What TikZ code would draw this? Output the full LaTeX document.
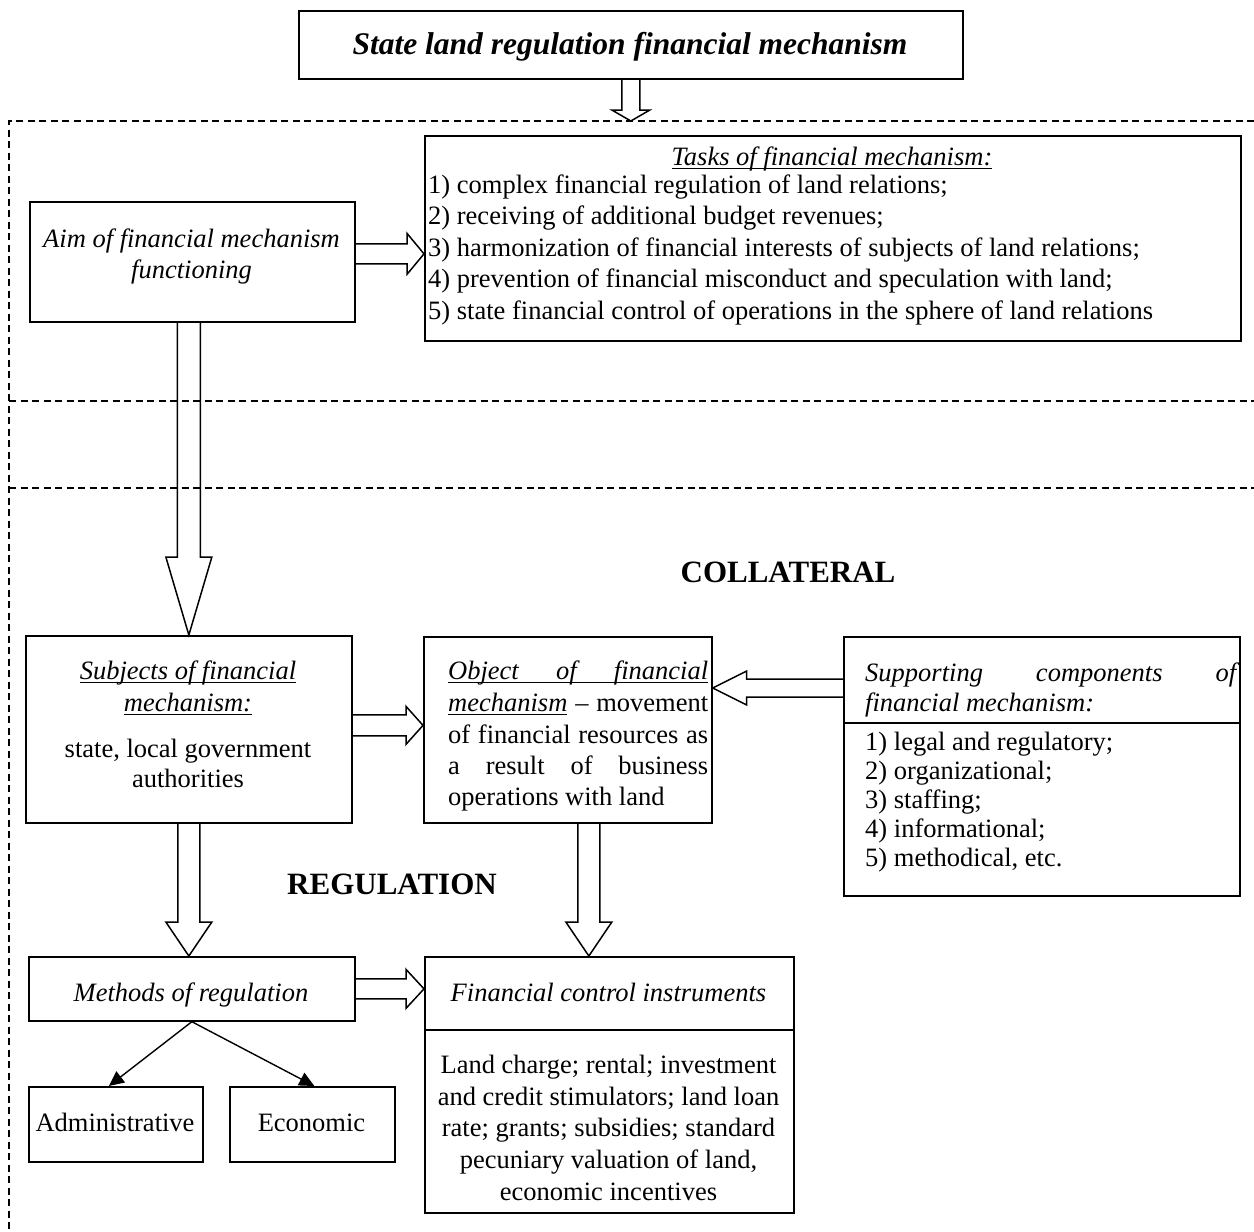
\documentclass[tikz,border=0pt]{standalone}
\usepackage{fontspec}
\setmainfont{Liberation Serif}
\usetikzlibrary{calc,arrows.meta}
\newsavebox\ulbox
\newcommand\uline[1]{\sbox\ulbox{#1}\rlap{\rule[-4pt]{\wd\ulbox}{1.4pt}}\usebox\ulbox}
\newcommand\blockarrow[5]{%
  \coordinate (ba-a) at (#1);
  \coordinate (ba-b) at (#2);
  \coordinate (ba-h) at ($(ba-b)!#5!(ba-a)$);
  \draw[blockar] ($(ba-a)!#3!90:(ba-b)$) -- ($(ba-h)!#3!-90:(ba-a)$) -- ($(ba-h)!#4!-90:(ba-a)$) -- (ba-b) -- ($(ba-h)!#4!90:(ba-a)$) -- ($(ba-h)!#3!90:(ba-a)$) -- ($(ba-a)!#3!-90:(ba-b)$);}
\tikzset{
  box/.style={draw, line width=1.7pt, inner sep=0pt, anchor=north west},
  frameline/.style={line width=1.4pt, dash pattern=on 7pt off 4.5pt},
  blockar/.style={draw, line width=1.5pt, line join=miter},
  thinar/.style={line width=1.4pt, -{Triangle[length=15pt,width=14pt]}},
  txt/.style={inner sep=0pt, font=\fontsize{26.5}{30.5}\selectfont},
  itxt/.style={inner sep=0pt, font=\fontsize{26.5}{30.5}\selectfont\itshape},
  big/.style={inner sep=0pt, font=\fontsize{31}{36}\selectfont\bfseries},
  ttl/.style={inner sep=0pt, font=\fontsize{31.5}{36}\selectfont\bfseries\itshape},
  divider/.style={line width=1.7pt},
}
\begin{document}
\begin{tikzpicture}[x=1pt,y=-1pt]
\useasboundingbox (0,0) rectangle (1254,1232);
\fill[white] (0,0) rectangle (1254,1232);
% dashed frame
\draw[frameline] (1254,121) -- (9,121) -- (9,1232);
\draw[frameline] (9,401) -- (1254,401);
\draw[frameline] (9,488) -- (1254,488);
\coordinate (ftop) at (630,121);
% boxes
\node[box, minimum width=664pt, minimum height=68pt] (title) at (298,10) {};
\node[box, minimum width=816pt, minimum height=205pt] (tasks) at (424,135) {};
\node[box, minimum width=325pt, minimum height=120pt] (aim) at (29,201) {};
\node[box, minimum width=326pt, minimum height=187pt] (subj) at (25,635) {};
\node[box, minimum width=288pt, minimum height=186pt] (obj) at (423,636) {};
\node[box, minimum width=396pt, minimum height=259pt] (supp) at (843,636) {};
\node[box, minimum width=326pt, minimum height=64pt] (meth) at (28,956) {};
\node[box, minimum width=369pt, minimum height=256pt] (fin) at (424,956) {};
\node[box, minimum width=174pt, minimum height=75pt] (admin) at (28,1086) {};
\node[box, minimum width=165pt, minimum height=75pt] (eco) at (229,1086) {};
\draw[divider] (843,723) -- (1239,723);
\draw[divider] (424,1030) -- (793,1030);
% block arrows
\blockarrow{title.south}{title.south |- ftop}{9pt}{19pt}{11pt}
\blockarrow{$(aim.east)+(0,-8)$}{tasks.west |- ba-a}{10pt}{20.5pt}{17pt}
\blockarrow{subj.north |- aim.south}{subj.north}{11.5pt}{23pt}{78pt}
\blockarrow{$(subj.east)+(0,-4)$}{obj.west |- ba-a}{10.5pt}{19pt}{17pt}
\blockarrow{$(supp.north west)+(0,52)$}{obj.east |- ba-a}{9pt}{17pt}{34pt}
\blockarrow{subj.south}{ba-a |- meth.north}{11pt}{23pt}{34pt}
\blockarrow{$(obj.south)+(21,0)$}{ba-a |- fin.north}{11pt}{23pt}{34pt}
\blockarrow{meth.east}{fin.west |- ba-a}{10pt}{19.5pt}{18pt}
% thin arrows
\draw[thinar] (meth.south) -- ($(admin.north)+(-7,0)$);
\draw[thinar] (meth.south) -- ($(eco.north)+(2,0)$);
% texts
\node[ttl, anchor=base] (ttltext) at (630,54) {State land regulation financial mechanism};
\node[itxt, anchor=base] (tkh) at (832,165) {\uline{Tasks of financial mechanism:}};
\node[txt, anchor=base west] (tk1) at (428,193) {1) complex financial regulation of land relations;};
\node[txt, anchor=base west] (tk2) at (428,224.5) {2) receiving of additional budget revenues;};
\node[txt, anchor=base west] (tk3) at (428,256) {3) harmonization of financial interests of subjects of land relations;};
\node[txt, anchor=base west] (tk4) at (428,287.5) {4) prevention of financial misconduct and speculation with land;};
\node[txt, anchor=base west] (tk5) at (428,319) {5) state financial control of operations in the sphere of land relations};
\node[itxt, anchor=base] (aim1) at (191.5,247) {Aim of financial mechanism};
\node[itxt, anchor=base] (aim2) at (191.5,278) {functioning};
\node[big, anchor=base] (coll) at (788,582) {COLLATERAL};
\node[itxt, anchor=base] (sb1) at (188,679) {\uline{Subjects of financial}};
\node[itxt, anchor=base] (sb2) at (188,711) {\uline{mechanism:}};
\node[txt, anchor=base] (sb3) at (188,757) {state, local government};
\node[txt, anchor=base] (sb4) at (188,787) {authorities};
\node[txt, anchor=base west] (ob1) at (448,679) {\uline{\hbox to 260pt{\itshape Object\hfill of\hfill financial}}};
\node[txt, anchor=base west] (ob2) at (448,711) {\hbox to 260pt{\uline{\itshape mechanism}\hfill--\hfill movement}};
\node[txt, anchor=base west] (ob3) at (448,743) {\hbox to 260pt{of\hfill financial\hfill resources\hfill as}};
\node[txt, anchor=base west] (ob4) at (448,774) {\hbox to 260pt{a\hfill result\hfill of\hfill business}};
\node[txt, anchor=base west] (ob5) at (448,805) {operations with land};
\node[txt, anchor=base west] (sp1) at (865,681) {\hbox to 371pt{\itshape Supporting\hfill components\hfill of}};
\node[itxt, anchor=base west] (sp2) at (865,711) {financial mechanism:};
\node[txt, anchor=base west] (sp3) at (865,750) {1) legal and regulatory;};
\node[txt, anchor=base west] (sp4) at (865,779) {2) organizational;};
\node[txt, anchor=base west] (sp5) at (865,808) {3) staffing;};
\node[txt, anchor=base west] (sp6) at (865,837) {4) informational;};
\node[txt, anchor=base west] (sp7) at (865,866) {5) methodical, etc.};
\node[big, anchor=base] (reg) at (392,894) {REGULATION};
\node[itxt, anchor=base] (mt) at (191,1001) {Methods of regulation};
\node[itxt, anchor=base] (ft) at (608.5,1001) {Financial control instruments};
\node[txt, anchor=base] (fb1) at (608.5,1073) {Land charge; rental; investment};
\node[txt, anchor=base] (fb2) at (608.5,1105) {and credit stimulators; land loan};
\node[txt, anchor=base] (fb3) at (608.5,1136) {rate; grants; subsidies; standard};
\node[txt, anchor=base] (fb4) at (608.5,1168) {pecuniary valuation of land,};
\node[txt, anchor=base] (fb5) at (608.5,1200) {economic incentives};
\node[txt, anchor=base] (adt) at (115,1131) {Administrative};
\node[txt, anchor=base] (ect) at (311.5,1131) {Economic};
\end{tikzpicture}
\end{document}
